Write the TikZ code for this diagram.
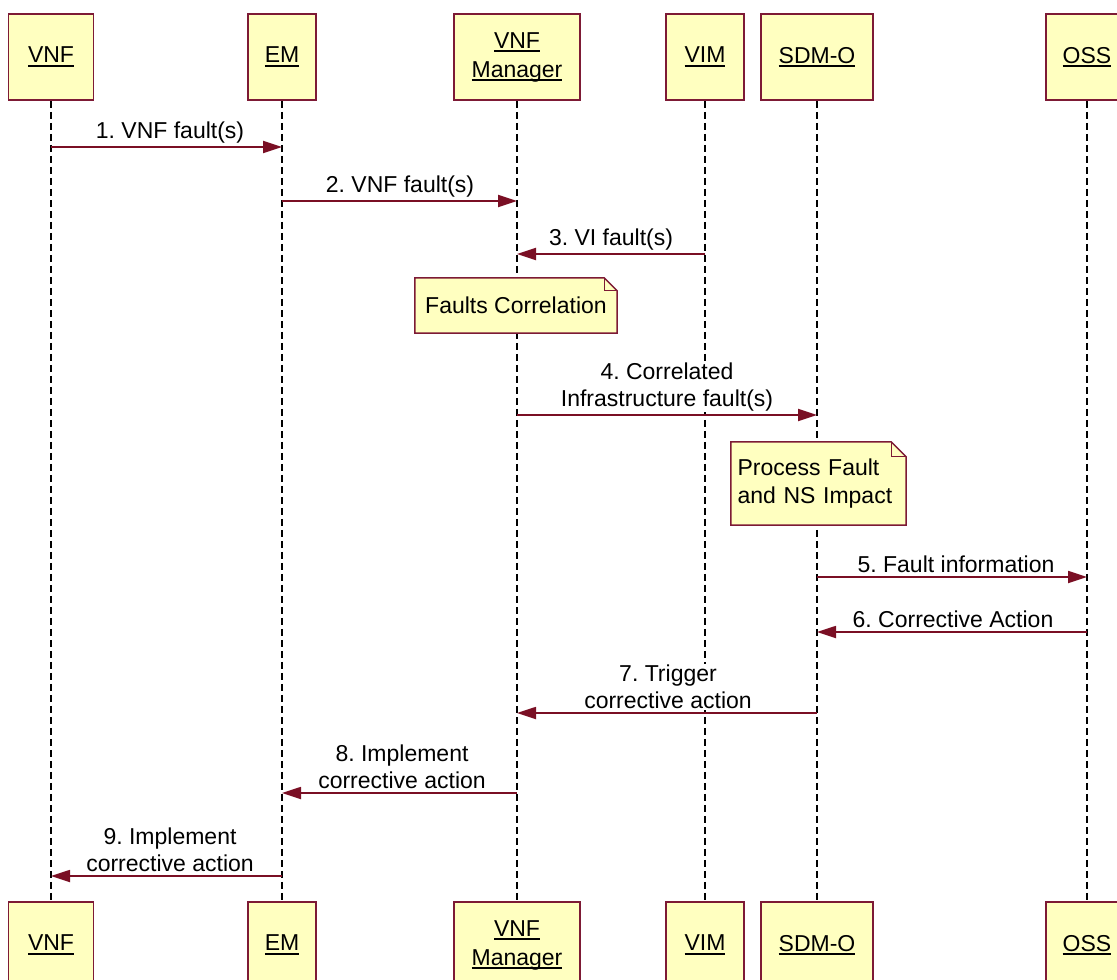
\documentclass[tikz,border=0pt]{standalone}
\usepackage{fontspec}
\setmainfont{Liberation Sans}
\usetikzlibrary{arrows.meta,calc}
\definecolor{boxfill}{HTML}{FFFFC0}
\definecolor{boxline}{HTML}{7D1A35}
\definecolor{arr}{HTML}{7A0F24}
\newcommand\ulx[1]{\setbox0\hbox{#1}\rlap{\rule[-4pt]{\wd0}{1.6pt}}\box0}
\pgfdeclarelayer{back}
\pgfdeclarelayer{mid}
\pgfsetlayers{back,mid,main}
\frenchspacing
\begin{document}
\begin{tikzpicture}[x=1pt,y=-1pt,
 actor/.style={draw=boxline,fill=boxfill,line width=1.8pt,minimum height=86pt,inner sep=0pt,align=center,font=\fontsize{23}{29}\selectfont},
 life/.style={line width=1.5pt,dash pattern=on 7pt off 4pt},
 msg/.style={draw=arr,line width=1.8pt,-{Triangle[length=19pt,width=12pt]}},
 lbl/.style={fill=white,inner sep=1pt,align=center,font=\fontsize{23}{27}\selectfont,anchor=south},
 notebox/.style={inner sep=0pt,font=\fontsize{23}{28}\selectfont},
 noteline/.style={draw=boxline,line width=1.5pt,fill=boxfill}]
\useasboundingbox (0,0) rectangle (1117,980);
\clip (0,0) rectangle (1117,980);
% top actors
\node[actor,minimum width=85pt] (tVNF) at (51,57) {\ulx{VNF}};
\node[actor,minimum width=68pt] (tEM) at (282,57) {\ulx{EM}};
\node[actor,minimum width=126pt] (tVNFM) at (517,57) {\ulx{VNF}\\\ulx{Manager}};
\node[actor,minimum width=78pt] (tVIM) at (705,57) {\ulx{VIM}};
\node[actor,minimum width=112pt] (tSDM) at (817,57) {\ulx{SDM-O}};
\node[actor,minimum width=82pt] (tOSS) at (1087,57) {\ulx{OSS}};
% bottom actors
\node[actor,minimum width=85pt] (bVNF) at (51,945) {\ulx{VNF}};
\node[actor,minimum width=68pt] (bEM) at (282,945) {\ulx{EM}};
\node[actor,minimum width=126pt] (bVNFM) at (517,945) {\ulx{VNF}\\\ulx{Manager}};
\node[actor,minimum width=78pt] (bVIM) at (705,945) {\ulx{VIM}};
\node[actor,minimum width=112pt] (bSDM) at (817,945) {\ulx{SDM-O}};
\node[actor,minimum width=82pt] (bOSS) at (1087,945) {\ulx{OSS}};
% lifelines
\begin{pgfonlayer}{back}
\foreach \a in {VNF,EM,VNFM,VIM,SDM,OSS}
  \draw[life] (t\a.south) -- (b\a.north);
\end{pgfonlayer}
% message levels
\coordinate (y1) at (0,147);
\coordinate (y2) at (0,201);
\coordinate (y3) at (0,254);
\coordinate (y4) at (0,415);
\coordinate (y5) at (0,577);
\coordinate (y6) at (0,632);
\coordinate (y7) at (0,713);
\coordinate (y8) at (0,793);
\coordinate (y9) at (0,876);
% messages
\draw[msg] (tVNF |- y1) -- (tEM |- y1);
\node[lbl] (l1) at (170,144) {1. VNF fault(s)};
\draw[msg] (tEM |- y2) -- (tVNFM |- y2);
\node[lbl] (l2) at (400,198) {2. VNF fault(s)};
\draw[msg] (tVIM |- y3) -- (tVNFM |- y3);
\node[lbl] (l3) at (611,251) {3. VI fault(s)};
\draw[msg] (tVNFM |- y4) -- (tSDM |- y4);
\node[lbl] (l4) at (667,412) {4. Correlated\\Infrastructure fault(s)};
\draw[msg] (tSDM |- y5) -- (tOSS |- y5);
\node[lbl] (l5) at (956,574) {5. Fault information};
\draw[msg] (tOSS |- y6) -- (tSDM |- y6);
\node[lbl] (l6) at (953,629) {6. Corrective Action};
\draw[msg] (tSDM |- y7) -- (tVNFM |- y7);
\node[lbl] (l7) at (668,710) {7. Trigger\\corrective action};
\draw[msg] (tVNFM |- y8) -- (tEM |- y8);
\node[lbl] (l8) at (402,790) {8. Implement\\corrective action};
\draw[msg] (tEM |- y9) -- (tVNF |- y9);
\node[lbl] (l9) at (170,873) {9. Implement\\corrective action};
% notes
\node[notebox,minimum width=202pt,minimum height=55pt,align=center] (n1) at (516,305.5) {Faults Correlation};
\node[notebox,minimum width=175pt,minimum height=83pt,align=left,text width=162pt] (n2) at (818.5,483.5) {Process Fault\\and NS Impact};
\begin{pgfonlayer}{mid}
\draw[noteline] (n1.north west) -- ($(n1.north east)+(-13,0)$) -- ($(n1.north east)+(0,13)$) -- (n1.south east) -- (n1.south west) -- cycle;
\draw[noteline,fill=none,line width=1pt] ($(n1.north east)+(-13,0)$) -- ($(n1.north east)+(-13,13)$) -- ($(n1.north east)+(0,13)$);
\draw[noteline] (n2.north west) -- ($(n2.north east)+(-15,0)$) -- ($(n2.north east)+(0,15)$) -- (n2.south east) -- (n2.south west) -- cycle;
\draw[noteline,fill=none,line width=1pt] ($(n2.north east)+(-15,0)$) -- ($(n2.north east)+(-15,15)$) -- ($(n2.north east)+(0,15)$);
\end{pgfonlayer}
\end{tikzpicture}
\end{document}
